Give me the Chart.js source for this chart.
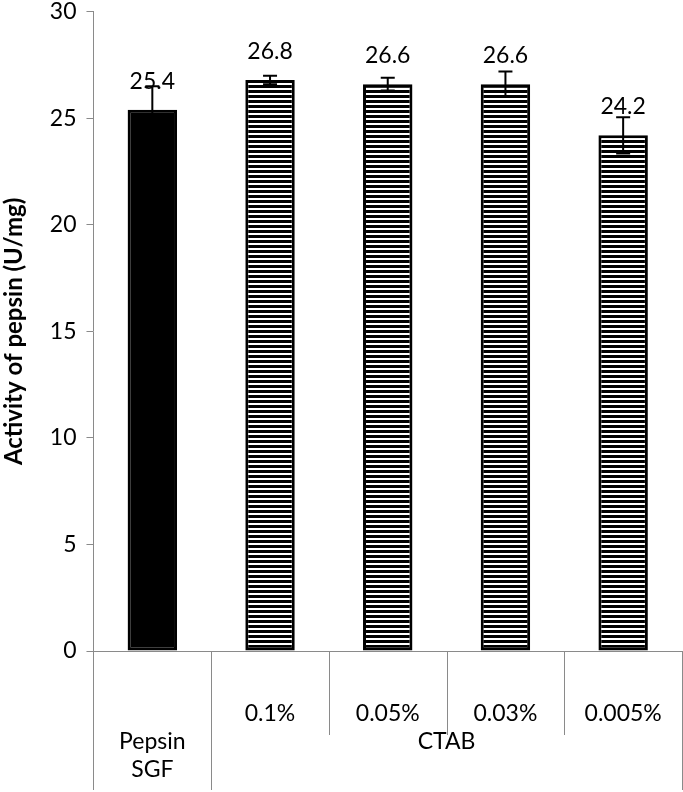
<!DOCTYPE html>
<html>
<head>
<meta charset="utf-8">
<script src="https://cdn.jsdelivr.net/npm/chart.js@4"></script>
<style>
  html, body { margin: 0; padding: 0; background: #fff; }
  #wrap { width: 683px; height: 792px; }
</style>
</head>
<body>
<div id="wrap"><canvas id="activityChart"></canvas></div>
<script>
"use strict";

const categories = ["", "0.1%", "0.05%", "0.03%", "0.005%"];
const groups = [
  { label: ["Pepsin", "SGF"], from: 0, to: 0 },
  { label: ["CTAB"], from: 1, to: 4 },
];
const activity = [25.4, 26.8, 26.6, 26.6, 24.2];
const errors = [1.1, 0.2, 0.3, 0.6, 0.85];
const yTicks = [0, 5, 10, 15, 20, 25, 30];

const FONT = "Lato, 'Open Sans', sans-serif";
const AXIS_GREY = "#8a8a8a";

function stripePattern() {
  const c = document.createElement("canvas");
  c.width = 8;
  c.height = 5;
  const g = c.getContext("2d");
  g.fillStyle = "#ffffff";
  g.fillRect(0, 0, 8, 5);
  g.fillStyle = "#000000";
  g.fillRect(0, 0, 8, 3);
  return g.createPattern(c, "repeat");
}

const stripes = stripePattern();

// error bars and value labels above each bar
const errorBarsAndLabels = {
  id: "errorBarsAndLabels",
  afterDatasetsDraw(chart) {
    const ctx = chart.ctx;
    const y = chart.scales.y;
    const meta = chart.getDatasetMeta(0);
    ctx.save();
    meta.data.forEach((bar, i) => {
      const top = y.getPixelForValue(activity[i] + errors[i]);
      const bottom = y.getPixelForValue(activity[i] - errors[i]);
      ctx.strokeStyle = "#000";
      ctx.lineWidth = 2;
      ctx.beginPath();
      ctx.moveTo(bar.x, top);
      ctx.lineTo(bar.x, bottom);
      ctx.moveTo(bar.x - 7, top);
      ctx.lineTo(bar.x + 7, top);
      ctx.moveTo(bar.x - 7, bottom);
      ctx.lineTo(bar.x + 7, bottom);
      ctx.stroke();
    });
    ctx.fillStyle = "#000";
    ctx.font = "23px " + FONT;
    ctx.textAlign = "center";
    ctx.textBaseline = "alphabetic";
    meta.data.forEach((bar, i) => {
      ctx.fillText(activity[i].toFixed(1), bar.x, bar.y - 21);
    });
    ctx.restore();
  },
};

// two-level category axis drawn under the chart area
const groupedAxis = {
  id: "groupedAxis",
  afterDraw(chart) {
    const ctx = chart.ctx;
    const x = chart.scales.x;
    const base = chart.chartArea.bottom;
    const half = (x.getPixelForValue(1) - x.getPixelForValue(0)) / 2;
    const edge = (i) => x.getPixelForValue(i) - half;
    const groupEdges = new Set();
    groups.forEach((g) => {
      groupEdges.add(g.from);
      groupEdges.add(g.to + 1);
    });
    ctx.save();
    ctx.strokeStyle = AXIS_GREY;
    ctx.lineWidth = 1;
    for (let i = 0; i <= categories.length; i++) {
      const px = Math.round(edge(i)) + 0.5;
      const len = groupEdges.has(i) ? 139 : 84;
      ctx.beginPath();
      ctx.moveTo(px, base);
      ctx.lineTo(px, base + len);
      ctx.stroke();
    }
    ctx.fillStyle = "#000";
    ctx.font = "23px " + FONT;
    ctx.textAlign = "center";
    ctx.textBaseline = "middle";
    categories.forEach((c, i) => {
      if (c) ctx.fillText(c, x.getPixelForValue(i), base + 63);
    });
    groups.forEach((g) => {
      const cx = (edge(g.from) + edge(g.to + 1)) / 2;
      g.label.forEach((line, k) => {
        ctx.fillText(line, cx, base + 91 + k * 28);
      });
    });
    ctx.restore();
  },
};

new Chart(document.getElementById("activityChart"), {
  type: "bar",
  data: {
    labels: categories,
    datasets: [
      {
        data: activity,
        backgroundColor: activity.map((v, i) => (i === 0 ? "#000" : stripes)),
        borderColor: "#000",
        borderWidth: 3,
        borderSkipped: false,
        barPercentage: 0.42,
        categoryPercentage: 1,
      },
    ],
  },
  options: {
    responsive: true,
    maintainAspectRatio: false,
    animation: false,
    layout: { padding: { top: 0, right: 1, bottom: 141, left: 0 } },
    plugins: {
      legend: { display: false },
      tooltip: { enabled: false },
    },
    scales: {
      x: {
        ticks: { display: false },
        grid: { display: false, drawTicks: false },
        border: { display: true, color: AXIS_GREY, width: 1 },
      },
      y: {
        min: 0,
        max: 30,
        afterBuildTicks: (scale) => {
          scale.ticks = yTicks.map((v) => ({ value: v }));
        },
        ticks: {
          color: "#000",
          font: { family: FONT, size: 23, lineHeight: 0.15 },
          padding: 10,
        },
        grid: {
          drawOnChartArea: false,
          drawTicks: true,
          tickLength: 7,
          color: AXIS_GREY,
        },
        border: { display: true, color: AXIS_GREY, width: 1 },
        title: {
          display: true,
          text: "Activity of pepsin (U/mg)",
          color: "#000",
          font: { family: FONT, size: 24, weight: "bold" },
          padding: { top: 0, bottom: 11 },
        },
      },
    },
  },
  plugins: [errorBarsAndLabels, groupedAxis],
});
</script>
</body>
</html>
